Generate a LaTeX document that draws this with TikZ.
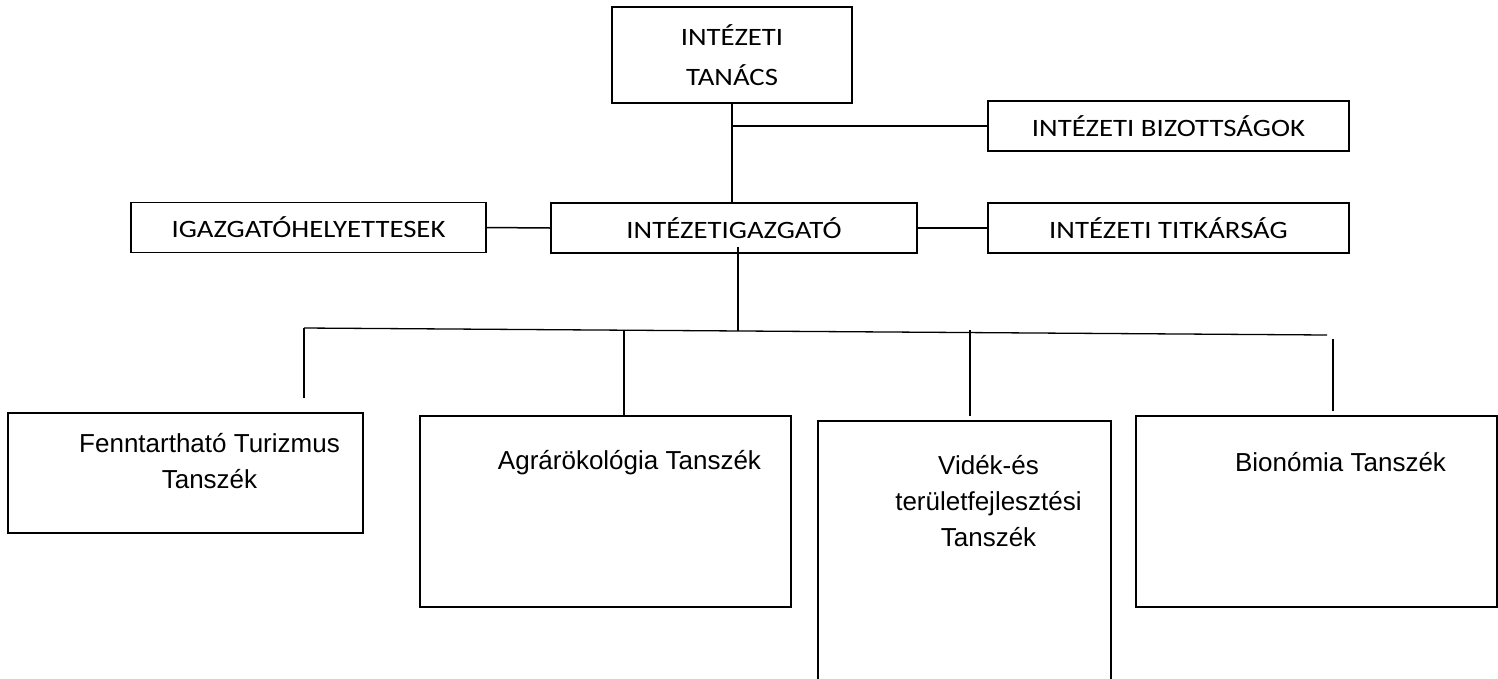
\documentclass[tikz,border=0pt]{standalone}
\usepackage{fontspec}
\newfontfamily\calibri[FakeStretch=1.15]{Carlito}
\newfontfamily\arial{Liberation Sans}
\usetikzlibrary{positioning}

\begin{document}
\begin{tikzpicture}[x=1pt,y=-1pt,line width=1.5pt,
    felso/.style={draw,inner sep=0pt,minimum height=50,font=\calibri\fontsize{25}{40}\selectfont,align=center},
    tanszek/.style={draw,inner sep=0pt},
    felirat/.style={anchor=north,inner sep=0pt,xshift=24pt,font=\arial\fontsize{26}{36}\selectfont,align=center}]
    \useasboundingbox (0,0) rectangle (1498,678);

    \node[felso,minimum width=240,minimum height=96] (tanacs) at (732,55) {INTÉZETI\\TANÁCS};
    \node[felso,minimum width=361] (bizottsag) at (1168.5,126) {INTÉZETI BIZOTTSÁGOK};
    \node[felso,minimum width=355] (helyettes) at (308.5,227.5) {IGAZGATÓHELYETTESEK};
    \node[felso,minimum width=366] (igazgato) at (734,228) {INTÉZETIGAZGATÓ};
    \node[felso,minimum width=361] (titkarsag) at (1168.5,228) {INTÉZETI TITKÁRSÁG};

    % tanszekek
    \node[tanszek,minimum width=355,minimum height=120,label={[felirat,yshift=-20pt]north:Fenntartható Turizmus\\Tanszék}] (turizmus) at (185.5,473) {};
    \node[tanszek,minimum width=371,minimum height=191,label={[felirat,yshift=-34pt]north:Agrárökológia Tanszék}] (agrar) at (605.5,511.5) {};
    \node[tanszek,minimum width=293,minimum height=268,label={[felirat,yshift=-34pt]north:Vidék-és\\területfejlesztési\\Tanszék}] (videk) at (964.5,555) {};
    \node[tanszek,minimum width=361,minimum height=191,label={[felirat,yshift=-36pt]north:Bionómia Tanszék}] (bionomia) at (1316.5,511.5) {};

    \coordinate (bal) at (304,328);
    \coordinate (kozep) at (738,331);
    \coordinate (jobb) at (1327,335);
    \coordinate (ag) at (624,330);
    \coordinate (vi) at (970,330);
    \coordinate (bi) at (1333,339);

    \draw (tanacs.south) -- (tanacs.south |- igazgato.north);
    \draw (bizottsag.west) -- (bizottsag.west -| tanacs.south);
    \draw (helyettes.east) -- (igazgato.west);
    \draw (igazgato.east) -- (titkarsag.west);
    \draw ([xshift=4pt,yshift=7pt]igazgato.south) -- (kozep);
    \draw[line width=1.3pt] (bal) -- (jobb);
    \draw[shorten >=14pt] (bal) -- (bal |- turizmus.north);
    \draw (ag) -- (ag |- agrar.north);
    \draw[shorten >=4pt] (vi) -- (vi |- videk.north);
    \draw[shorten >=4pt] (bi) -- (bi |- bionomia.north);
\end{tikzpicture}
\end{document}
